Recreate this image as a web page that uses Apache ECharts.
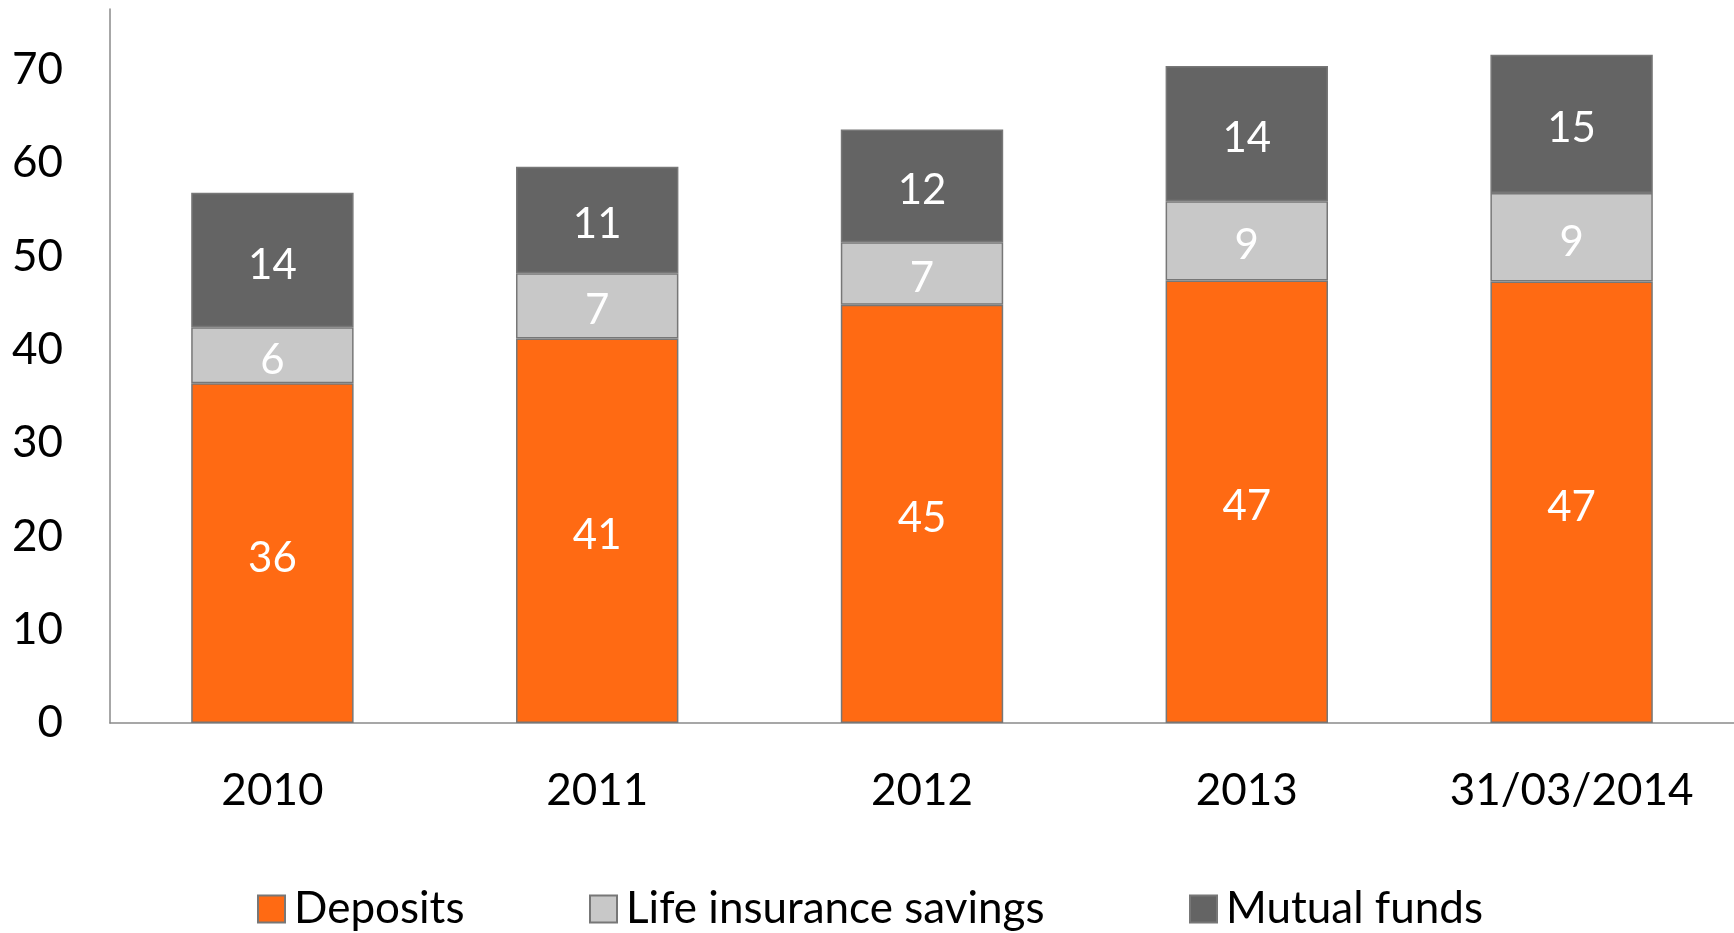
<!DOCTYPE html>
<html>
<head>
<meta charset="utf-8">
<title>Savings by type</title>
<script src="https://cdn.jsdelivr.net/npm/echarts@6/dist/echarts.min.js"></script>
<style>
  html, body { margin: 0; padding: 0; background: #ffffff; }
  #chart { width: 1734px; height: 933px; }
</style>
</head>
<body>
<div id="chart"></div>
<script>
// Period labels on the category axis
const categories = ['2010', '2011', '2012', '2013', '31/03/2014'];

// Stacked components (labels show the rounded figure)
const deposits      = [36.4, 41.2, 44.8, 47.4, 47.3];
const lifeInsurance = [6.0, 7.0, 6.7, 8.5, 9.49];
const mutualFunds   = [14.4, 11.4, 12.1, 14.49, 14.8];

const seriesNames = ['Deposits', 'Life insurance savings', 'Mutual funds'];
const seriesColors = ['#ff6a13', '#c8c8c8', '#646464'];

const FONT = 'Lato, "Open Sans", sans-serif';

const chart = echarts.init(document.getElementById('chart'), null, { renderer: 'canvas' });

function barSeries(name, data, color) {
  return {
    name: name,
    type: 'bar',
    stack: 'total',
    data: data,
    barWidth: '50%',
    itemStyle: { color: color, borderColor: '#777777', borderWidth: 1.5 },
    label: {
      show: true,
      position: 'inside',
      offset: [0, 5],
      color: '#ffffff',
      fontFamily: FONT,
      fontSize: 42,
      formatter: p => String(Math.round(p.value))
    },
    emphasis: { disabled: true }
  };
}

// One legend block per series so each entry sits at its own spot
const legendLefts = [252, 584, 1184];
const legends = seriesNames.map((name, i) => ({
  bottom: -3,
  left: legendLefts[i],
  itemWidth: 27,
  itemHeight: 27,
  icon: 'rect',
  selectedMode: false,
  textStyle: { color: '#000000', fontFamily: FONT, fontSize: 44, padding: [0, 0, 0, 4] },
  data: [name]
}));

chart.setOption({
  animation: false,
  backgroundColor: '#ffffff',
  grid: { left: 110, right: 0, top: 9, bottom: 210, containLabel: false },
  xAxis: {
    type: 'category',
    data: categories,
    axisLine: { lineStyle: { color: '#8a8a8a', width: 1.5 } },
    axisTick: { show: false },
    axisLabel: { color: '#000000', fontFamily: FONT, fontSize: 44, margin: 46 }
  },
  yAxis: {
    type: 'value',
    min: 0,
    max: 76.5,
    interval: 10,
    splitLine: { show: false },
    axisLine: { show: true, lineStyle: { color: '#8a8a8a', width: 1.5 } },
    axisTick: { show: false },
    axisLabel: { color: '#000000', fontFamily: FONT, fontSize: 44, margin: 47, showMaxLabel: false }
  },
  legend: legends,
  series: [
    barSeries(seriesNames[0], deposits, seriesColors[0]),
    barSeries(seriesNames[1], lifeInsurance, seriesColors[1]),
    barSeries(seriesNames[2], mutualFunds, seriesColors[2])
  ]
});
</script>
</body>
</html>
